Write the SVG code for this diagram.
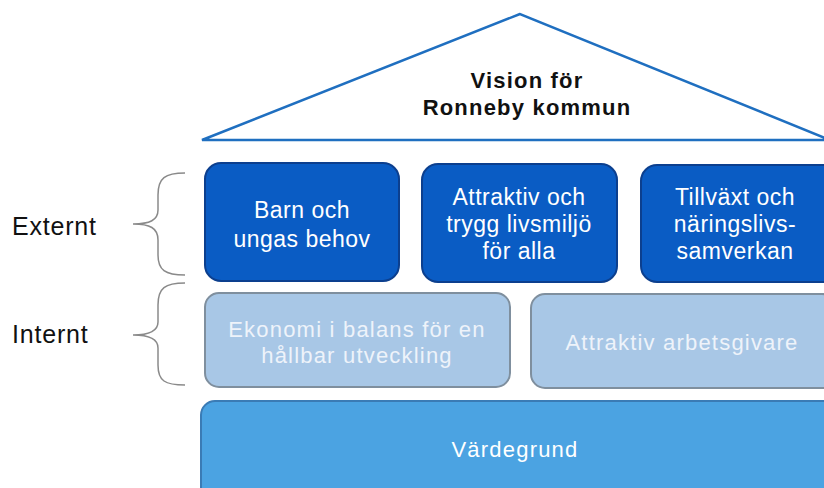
<svg xmlns="http://www.w3.org/2000/svg" width="824" height="488" viewBox="0 0 824 488">
<style>
.dark{fill:#0a5cc4;stroke:#0c3f8e;stroke-width:2}
.light{fill:#a8c7e6;stroke:#7f8f9e;stroke-width:2}
.base{fill:#4ba3e2;stroke:#3a7bb5;stroke-width:2}
.wt{font-family:"Liberation Sans",Arial,sans-serif;font-size:23px;letter-spacing:0.5px;fill:#ffffff;text-anchor:middle}
.ft{font-family:"Liberation Sans",Arial,sans-serif;font-size:22px;letter-spacing:1.2px;fill:#eef3fa;text-anchor:middle}
.lbl{font-family:"Liberation Sans",Arial,sans-serif;font-size:25px;letter-spacing:0.8px;fill:#111111}
.brace{fill:none;stroke:#8a8a8a;stroke-width:1.5}
.title{font-family:"Liberation Sans",Arial,sans-serif;font-size:22px;font-weight:bold;letter-spacing:1.2px;fill:#111111;text-anchor:middle}
</style>
<rect width="824" height="488" fill="#ffffff"/>
<g id="roof">
<polygon points="520,14 202,140 830,140" fill="#ffffff" stroke="#1f6fc0" stroke-width="2.5"/>
<text class="title" x="527" y="88">Vision för</text>
<text class="title" x="527" y="115">Ronneby kommun</text>
</g>
<g id="barn">
<rect class="dark" x="205" y="163" width="194" height="118" rx="16"/>
<text class="wt" x="302" y="218">Barn och</text>
<text class="wt" x="302" y="247">ungas behov</text>
</g>
<g id="attraktiv">
<rect class="dark" x="422" y="164" width="195" height="118" rx="16"/>
<text class="wt" x="519" y="205">Attraktiv och</text>
<text class="wt" x="519" y="232">trygg livsmiljö</text>
<text class="wt" x="519" y="259">för alla</text>
</g>
<g id="tillvaxt">
<rect class="dark" x="641" y="165" width="200" height="117" rx="16"/>
<text class="wt" x="735" y="205">Tillväxt och</text>
<text class="wt" x="735" y="232">näringslivs-</text>
<text class="wt" x="735" y="259">samverkan</text>
</g>
<g id="ekonomi">
<rect class="light" x="205" y="293" width="305" height="94" rx="14"/>
<text class="ft" x="357" y="337">Ekonomi i balans för en</text>
<text class="ft" x="357" y="363">hållbar utveckling</text>
</g>
<g id="arbetsgivare">
<rect class="light" x="531" y="294" width="305" height="94" rx="14"/>
<text class="ft" x="682" y="350">Attraktiv arbetsgivare</text>
</g>
<g id="vardegrund">
<rect class="base" x="201" y="401" width="640" height="100" rx="14"/>
<text class="ft" x="515" y="457" style="fill:#ffffff">Värdegrund</text>
</g>
<g id="externt">
<path class="brace" d="M185,173 C165,173 158,178 158,195 L158,210 C158,220 150,224 133,224 C150,224 158,228 158,240 L158,255 C158,270 165,275 185,275"/>
<text class="lbl" x="12" y="235">Externt</text>
</g>
<g id="internt">
<path class="brace" d="M185,283 C165,283 158,288 158,305 L158,322 C158,331 150,335 133,335 C150,335 158,339 158,348 L158,365 C158,381 165,385 185,385"/>
<text class="lbl" x="12" y="343">Internt</text>
</g>
<g id="connectors"></g>
</svg>
